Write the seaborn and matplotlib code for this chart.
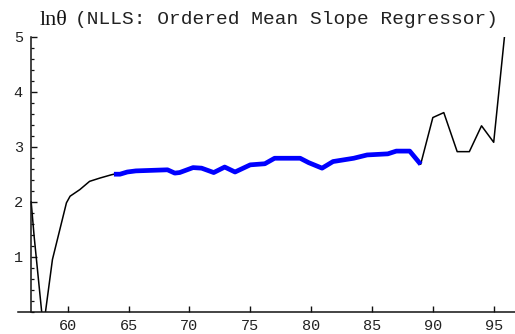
import matplotlib
matplotlib.use("Agg")
import matplotlib.pyplot as plt
from matplotlib.ticker import MultipleLocator, FixedLocator
import numpy as np
import pandas as pd
import seaborn as sns

# ln(theta) by year (19xx), NLLS estimate with ordered mean slope regressor
year_early = [57.0, 57.25, 58.0, 58.75, 59.9, 60.2, 61.0, 61.8, 62.65, 63.6, 63.8]
lntheta_early = [2.00, 1.36, -0.30, 0.95, 1.98, 2.10, 2.22, 2.37, 2.43, 2.49, 2.50]

year_mid = [63.8, 64.3, 64.9, 65.6, 68.2, 68.8, 69.2, 70.3, 71.0, 72.0, 72.9,
            73.75, 75.0, 76.2, 77.0, 79.1, 79.8, 80.9, 81.8, 83.5, 84.6,
            86.3, 87.0, 88.1, 89.0]
lntheta_mid = [2.50, 2.50, 2.54, 2.56, 2.58, 2.52, 2.53, 2.62, 2.61, 2.53, 2.63,
               2.54, 2.67, 2.69, 2.79, 2.79, 2.71, 2.61, 2.73, 2.79, 2.85,
               2.87, 2.92, 2.92, 2.68]

year_late = [89.0, 90.0, 90.9, 92.0, 93.0, 94.0, 95.0, 96.0]
lntheta_late = [2.68, 3.53, 3.62, 2.91, 2.91, 3.38, 3.08, 5.25]

x_ticks = [60, 65, 70, 75, 80, 85, 90, 95]
y_ticks = [1, 2, 3, 4, 5]

full = pd.DataFrame({
    "year": year_early + year_mid[1:] + year_late[1:],
    "lntheta": lntheta_early + lntheta_mid[1:] + lntheta_late[1:],
})
mid = pd.DataFrame({"year": year_mid, "lntheta": lntheta_mid})

sns.set_style("white")
mono = ["Liberation Mono", "DejaVu Sans Mono"]

W, H = 515, 334
fig = plt.figure(figsize=(W / 100, H / 100), dpi=100)
ax = fig.add_axes([18 / W, (H - 311.7) / H, (W - 18) / W, 275.0 / H])

sns.lineplot(data=full, x="year", y="lntheta", ax=ax, color="black",
             lw=1.1, estimator=None, sort=False)
sns.lineplot(data=mid, x="year", y="lntheta", ax=ax, color="#0000ff",
             lw=3.4, estimator=None, sort=False, solid_capstyle="butt")

ax.set_xlim(55.92, 96.75)
ax.set_ylim(0, 5)
ax.set_xlabel("")
ax.set_ylabel("")

for s in ("top", "right"):
    ax.spines[s].set_visible(False)
ax.spines["left"].set_position(("data", 57))
for s in ("left", "bottom"):
    ax.spines[s].set_linewidth(1.1)
    ax.spines[s].set_color("#111111")

ax.xaxis.set_major_locator(FixedLocator(x_ticks))
ax.yaxis.set_major_locator(FixedLocator(y_ticks))
ax.yaxis.set_minor_locator(MultipleLocator(0.2))
ax.set_xticklabels([str(v) for v in x_ticks])
ax.set_yticklabels([str(v) for v in y_ticks])

ax.tick_params(axis="both", which="major", direction="in", length=4.5,
               width=1.0, color="#111111", labelsize=11, labelcolor="#222222")
ax.tick_params(axis="y", which="minor", direction="in", length=2.5,
               width=0.9, color="#111111")
ax.tick_params(axis="x", which="major", pad=5, bottom=True)
ax.tick_params(axis="y", which="major", pad=6, left=True)
ax.tick_params(axis="y", which="minor", left=True)
for lab in ax.get_xticklabels() + ax.get_yticklabels():
    lab.set_family(mono)

fig.text(40 / W, (H - 25) / H, "ln\u03b8", family=["Liberation Serif", "DejaVu Serif"],
         fontsize=16, va="baseline", ha="left", color="#111111")
fig.text(75 / W, (H - 24) / H, "(NLLS: Ordered Mean Slope Regressor)",
         family=mono, fontsize=14.0, va="baseline", ha="left", color="#222222")

fig.savefig("out.png", dpi=100, facecolor="white")
